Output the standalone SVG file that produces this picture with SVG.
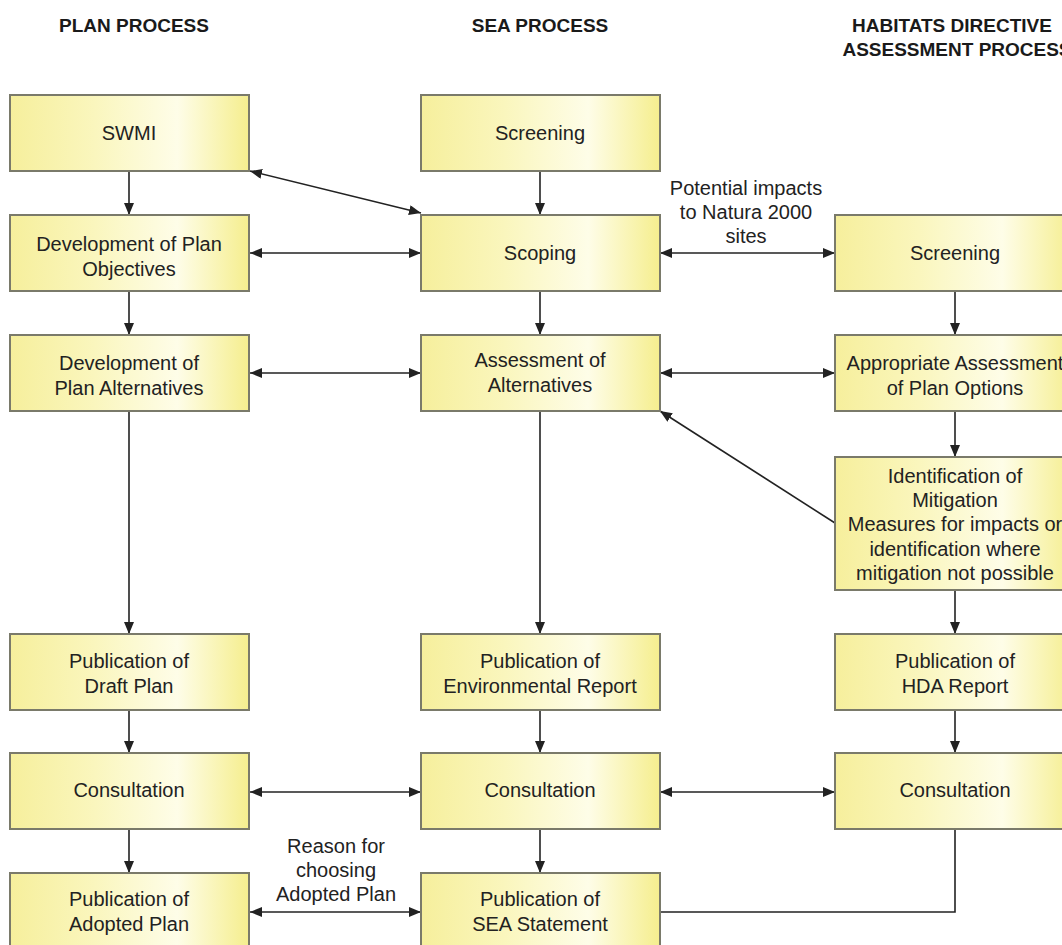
<svg xmlns="http://www.w3.org/2000/svg" width="1062" height="945" viewBox="0 0 1062 945">
<style>
.box{fill:url(#yg);stroke:#7a7a6a;stroke-width:2}
.t{font-family:"Liberation Sans",Arial,sans-serif;font-size:20px;fill:#222;text-anchor:middle}
.h{font-family:"Liberation Sans",Arial,sans-serif;font-size:19px;font-weight:bold;fill:#1a1a1a;text-anchor:middle}
.l{font-family:"Liberation Sans",Arial,sans-serif;font-size:20px;fill:#222;text-anchor:middle}
.c{stroke:#222;stroke-width:1.6;fill:none}
.a{marker-end:url(#ah)}
.b{marker-start:url(#ahs);marker-end:url(#ah)}
</style>
<defs>
<linearGradient id="yg" x1="0" y1="0" x2="1" y2="0">
<stop offset="0" stop-color="#f6ef9c"/>
<stop offset="0.35" stop-color="#faf6bd"/>
<stop offset="0.7" stop-color="#fefde8"/>
<stop offset="1" stop-color="#f5ee8e"/>
</linearGradient>
<marker id="ah" viewBox="0 0 12 10" refX="12" refY="5" markerWidth="12" markerHeight="10" markerUnits="userSpaceOnUse" orient="auto">
<path d="M0,0 L12,5 L0,10 Z" fill="#222"/>
</marker>
<marker id="ahs" viewBox="0 0 12 10" refX="0" refY="5" markerWidth="12" markerHeight="10" markerUnits="userSpaceOnUse" orient="auto">
<path d="M12,0 L0,5 L12,10 Z" fill="#222"/>
</marker>
</defs>
<rect width="1062" height="945" fill="#fff"/>
<g id="headers">
<text class="h" x="134" y="32">PLAN PROCESS</text>
<text class="h" x="540" y="32">SEA PROCESS</text>
<text class="h" x="952" y="32">HABITATS DIRECTIVE</text>
<text class="h" x="957" y="56">ASSESSMENT PROCESS</text>
</g>
<g id="connectors">
<line class="c a" x1="129" y1="171" x2="129" y2="215"/>
<line class="c b" x1="250" y1="171" x2="421" y2="213"/>
<line class="c a" x1="540" y1="171" x2="540" y2="215"/>
<line class="c b" x1="250" y1="253" x2="421" y2="253"/>
<line class="c b" x1="660" y1="253" x2="835" y2="253"/>
<line class="c a" x1="129" y1="291" x2="129" y2="335"/>
<line class="c a" x1="540" y1="291" x2="540" y2="335"/>
<line class="c a" x1="955" y1="291" x2="955" y2="335"/>
<line class="c b" x1="250" y1="373" x2="421" y2="373"/>
<line class="c b" x1="660" y1="373" x2="835" y2="373"/>
<line class="c a" x1="955" y1="411" x2="955" y2="457"/>
<line class="c a" x1="835" y1="523" x2="660" y2="411"/>
<line class="c a" x1="129" y1="411" x2="129" y2="634"/>
<line class="c a" x1="540" y1="411" x2="540" y2="634"/>
<line class="c a" x1="955" y1="590" x2="955" y2="634"/>
<line class="c a" x1="129" y1="710" x2="129" y2="753"/>
<line class="c a" x1="540" y1="710" x2="540" y2="753"/>
<line class="c a" x1="955" y1="710" x2="955" y2="753"/>
<line class="c b" x1="250" y1="792" x2="421" y2="792"/>
<line class="c b" x1="660" y1="792" x2="835" y2="792"/>
<line class="c a" x1="129" y1="829" x2="129" y2="873"/>
<line class="c a" x1="540" y1="829" x2="540" y2="873"/>
<polyline class="c" points="955,829 955,912 659,912"/>
<line class="c b" x1="250" y1="912" x2="421" y2="912"/>
<text class="l" x="746" y="195">Potential impacts</text>
<text class="l" x="746" y="219">to Natura 2000</text>
<text class="l" x="746" y="243">sites</text>
<text class="l" x="336" y="853">Reason for</text>
<text class="l" x="336" y="877">choosing</text>
<text class="l" x="336" y="901">Adopted Plan</text>
</g>
<g id="swmi"><rect class="box" x="10" y="95" width="239" height="76"/><text class="t" x="129" y="140">SWMI</text></g>
<g id="dev-objectives"><rect class="box" x="10" y="215" width="239" height="76"/><text class="t" x="129" y="251">Development of Plan</text><text class="t" x="129" y="276">Objectives</text></g>
<g id="dev-alternatives"><rect class="box" x="10" y="335" width="239" height="76"/><text class="t" x="129" y="370">Development of</text><text class="t" x="129" y="395">Plan Alternatives</text></g>
<g id="draft-plan"><rect class="box" x="10" y="634" width="239" height="76"/><text class="t" x="129" y="668">Publication of</text><text class="t" x="129" y="693">Draft Plan</text></g>
<g id="plan-consultation"><rect class="box" x="10" y="753" width="239" height="76"/><text class="t" x="129" y="797">Consultation</text></g>
<g id="adopted-plan"><rect class="box" x="10" y="873" width="239" height="76"/><text class="t" x="129" y="906">Publication of</text><text class="t" x="129" y="931">Adopted Plan</text></g>
<g id="sea-screening"><rect class="box" x="421" y="95" width="239" height="76"/><text class="t" x="540" y="140">Screening</text></g>
<g id="scoping"><rect class="box" x="421" y="215" width="239" height="76"/><text class="t" x="540" y="260">Scoping</text></g>
<g id="assessment-alternatives"><rect class="box" x="421" y="335" width="239" height="76"/><text class="t" x="540" y="367">Assessment of</text><text class="t" x="540" y="392">Alternatives</text></g>
<g id="env-report"><rect class="box" x="421" y="634" width="239" height="76"/><text class="t" x="540" y="668">Publication of</text><text class="t" x="540" y="693">Environmental Report</text></g>
<g id="sea-consultation"><rect class="box" x="421" y="753" width="239" height="76"/><text class="t" x="540" y="797">Consultation</text></g>
<g id="sea-statement"><rect class="box" x="421" y="873" width="239" height="76"/><text class="t" x="540" y="906">Publication of</text><text class="t" x="540" y="931">SEA Statement</text></g>
<g id="hda-screening"><rect class="box" x="835" y="215" width="239" height="76"/><text class="t" x="955" y="260">Screening</text></g>
<g id="appropriate-assessment"><rect class="box" x="835" y="335" width="239" height="76"/><text class="t" x="955" y="370">Appropriate Assessment</text><text class="t" x="955" y="395">of Plan Options</text></g>
<g id="mitigation"><rect class="box" x="835" y="457" width="239" height="133"/><text class="t" x="955" y="483">Identification of</text><text class="t" x="955" y="507">Mitigation</text><text class="t" x="955" y="531">Measures for impacts or</text><text class="t" x="955" y="556">identification where</text><text class="t" x="955" y="580">mitigation not possible</text></g>
<g id="hda-report"><rect class="box" x="835" y="634" width="239" height="76"/><text class="t" x="955" y="668">Publication of</text><text class="t" x="955" y="693">HDA Report</text></g>
<g id="hda-consultation"><rect class="box" x="835" y="753" width="239" height="76"/><text class="t" x="955" y="797">Consultation</text></g>
</svg>
